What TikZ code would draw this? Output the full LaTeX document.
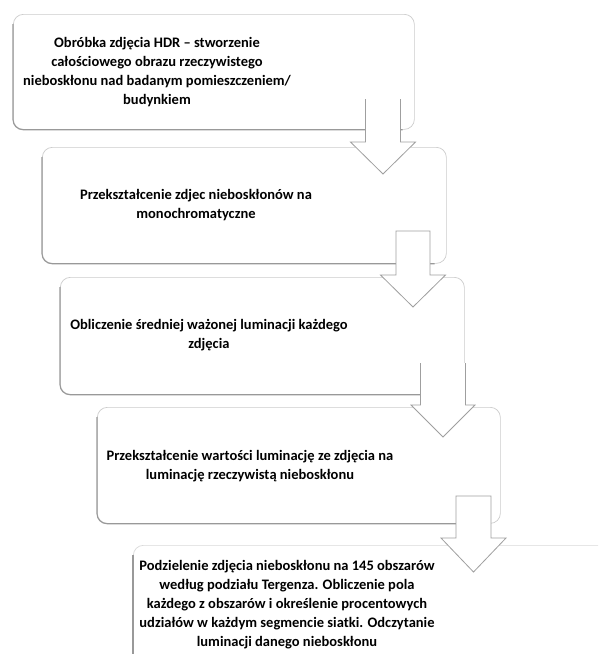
\documentclass[tikz,border=0pt]{standalone}
\usepackage{fontspec}
\setmainfont{Carlito}
\usetikzlibrary{calc}
\tikzset{
  box/.style={draw=gray!40, line width=0.7pt, fill=white, rounded corners=10pt, inner sep=0pt, anchor=north west},
  boxshade/.style={draw=gray!80, line width=1.1pt, rounded corners=10pt},
  txt/.style={align=center, font=\fontsize{14.5}{19}\selectfont\bfseries, text=black, inner sep=0pt},
  barrow/.style={draw=gray!75, line width=0.8pt, fill=white, line join=miter},
  pics/blockarr/.style args={#1/#2/#3/#4/#5}{code={
    \ifnum#5=1
      \path[pic actions] (-#1,#4) -- (-#1,#3) -- (-#2,#3) -- (0,0) -- (#2,#3) -- (#1,#3) -- (#1,#4) -- cycle;
    \else
      \path[fill=white] (-#1,#4) -- (-#1,#3) -- (-#2,#3) -- (0,0) -- (#2,#3) -- (#1,#3) -- (#1,#4) -- cycle;
      \path[pic actions, fill=none] (-#1,#4) -- (-#1,#3) -- (-#2,#3) -- (0,0) -- (#2,#3) -- (#1,#3) -- (#1,#4);
    \fi
  }}
}
\begin{document}
\begin{tikzpicture}[x=1pt,y=1pt]
\useasboundingbox (0,0) rectangle (598,-654);
\clip (0,0) rectangle (598,-654);
\fill[white] (0,0) rectangle (598,-654);

% Box 1
\node[box, minimum width=401pt, minimum height=115pt] (b1) at (13,-14) {};
\draw[boxshade] ([yshift=-10pt]b1.north west) -- (b1.south west) -- ([xshift=-12pt]b1.south east);
\node[txt] (t1) at (157,-72) {Obróbka zdjęcia HDR – stworzenie\\całościowego obrazu rzeczywistego\\nieboskłonu nad badanym pomieszczeniem/\\budynkiem};

% Box 2
\node[box, minimum width=404pt, minimum height=116pt] (b2) at (42,-147) {};
\draw[boxshade] ([yshift=-10pt]b2.north west) -- (b2.south west) -- ([xshift=-12pt]b2.south east);
\node[txt] (t2) at (196,-205) {Przekształcenie zdjec nieboskłonów na\\monochromatyczne};
\coordinate (a1) at (383,-174);
\pic[barrow] at (a1) {blockarr=17.5/32.5/32/75/0};

% Box 3
\node[box, minimum width=404pt, minimum height=117pt] (b3) at (60,-277) {};
\draw[boxshade] ([yshift=-10pt]b3.north west) -- (b3.south west) -- ([xshift=-12pt]b3.south east);
\node[txt] (t3) at (209,-335) {Obliczenie średniej ważonej luminacji każdego\\zdjęcia};
\coordinate (a2) at (413,-307);
\pic[barrow] at (a2) {blockarr=17/32.5/32/76/1};

% Box 4
\node[box, minimum width=403pt, minimum height=116pt] (b4) at (97,-407) {};
\draw[boxshade] ([yshift=-10pt]b4.north west) -- (b4.south west) -- ([xshift=-12pt]b4.south east);
\node[txt] (t4) at (250,-466) {Przekształcenie wartości luminację ze zdjęcia na\\luminację rzeczywistą nieboskłonu};
\coordinate (a3) at (443,-437);
\pic[barrow] at (a3) {blockarr=22.5/32/32/74/0};

% Box 5 (runs past the page edge)
\node[box, draw=gray!30, minimum width=520pt, minimum height=160pt] (b5) at (133,-545) {};
\draw[boxshade] ([yshift=-10pt]b5.north west) -- ([yshift=-40pt]b5.west);
\node[txt] (t5) at (287,-604.5) {Podzielenie zdjęcia nieboskłonu na 145 obszarów\\według podziału Tergenza. Obliczenie pola\\każdego z obszarów i określenie procentowych\\udziałów w każdym segmencie siatki. Odczytanie\\luminacji danego nieboskłonu};
\coordinate (a4) at (473.5,-572);
\pic[barrow] at (a4) {blockarr=17.5/32.5/34/76/1};
\end{tikzpicture}
\end{document}
